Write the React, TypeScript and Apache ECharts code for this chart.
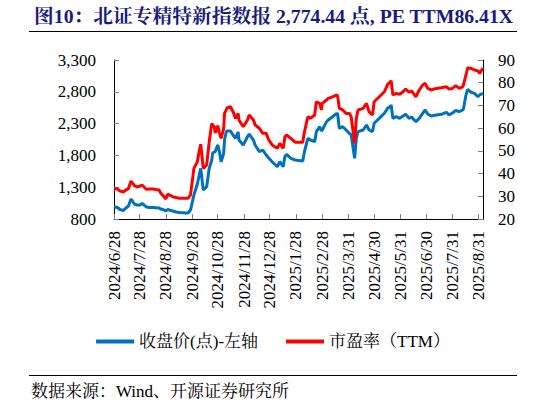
import React, { useEffect, useRef } from "react";
import * as echarts from "echarts";

const TITLE = "图10：北证专精特新指数报 2,774.44 点, PE TTM86.41X";
const SOURCE = "数据来源：Wind、开源证券研究所";
const SERIES_NAMES = ["收盘价(点)-左轴", "市盈率（TTM）"];

const tickLabels = [
  "2024/6/28", "2024/7/28", "2024/8/28", "2024/9/28", "2024/10/28", "2024/11/28", "2024/12/28",
  "2025/1/28", "2025/2/28", "2025/3/31", "2025/4/30", "2025/5/31", "2025/6/30", "2025/7/31", "2025/8/31",
];

const dates = [
  "2024-06-28", "2024-07-02", "2024-07-05", "2024-07-09", "2024-07-12", "2024-07-15", "2024-07-18", "2024-07-22",
  "2024-07-25", "2024-07-29", "2024-07-31", "2024-08-05", "2024-08-09", "2024-08-13", "2024-08-16", "2024-08-20",
  "2024-08-22", "2024-08-26", "2024-08-28", "2024-08-30", "2024-09-03", "2024-09-05", "2024-09-09", "2024-09-13",
  "2024-09-18", "2024-09-20", "2024-09-23", "2024-09-26", "2024-09-30", "2024-10-04", "2024-10-06", "2024-10-08",
  "2024-10-11", "2024-10-15", "2024-10-18", "2024-10-21", "2024-10-22", "2024-10-24", "2024-10-25", "2024-10-28",
  "2024-10-30", "2024-11-01", "2024-11-04", "2024-11-05", "2024-11-07", "2024-11-08", "2024-11-12", "2024-11-15",
  "2024-11-18", "2024-11-21", "2024-11-22", "2024-11-27", "2024-12-02", "2024-12-04", "2024-12-09", "2024-12-11",
  "2024-12-16", "2024-12-20", "2024-12-24", "2024-12-27", "2024-12-31", "2025-01-06", "2025-01-09", "2025-01-13",
  "2025-01-15", "2025-01-17", "2025-01-22", "2025-01-27", "2025-02-05", "2025-02-07", "2025-02-11", "2025-02-14",
  "2025-02-19", "2025-02-21", "2025-02-25", "2025-02-27", "2025-02-28", "2025-03-05", "2025-03-07", "2025-03-12",
  "2025-03-17", "2025-03-18", "2025-03-20", "2025-03-24", "2025-03-28", "2025-04-01", "2025-04-03", "2025-04-07",
  "2025-04-09", "2025-04-11", "2025-04-17", "2025-04-21", "2025-04-24", "2025-04-28", "2025-04-30", "2025-05-06",
  "2025-05-12", "2025-05-16", "2025-05-19", "2025-05-20", "2025-05-22", "2025-05-26", "2025-05-30", "2025-06-03",
  "2025-06-06", "2025-06-10", "2025-06-13", "2025-06-18", "2025-06-22", "2025-06-26", "2025-06-29", "2025-07-02",
  "2025-07-06", "2025-07-12", "2025-07-18", "2025-07-24", "2025-07-27", "2025-07-31", "2025-08-04", "2025-08-08",
  "2025-08-12", "2025-08-13", "2025-08-16", "2025-08-18", "2025-08-22", "2025-08-26", "2025-08-30", "2025-09-01",
  "2025-09-05",
];

const closes = [
  993, 981, 949, 934, 973, 1004, 1115, 1036,
  1020, 1020, 1047, 989, 981, 981, 978, 973,
  957, 942, 926, 949, 934, 926, 910, 902,
  899, 894, 894, 942, 1177, 1350, 1476, 1597,
  1256, 1308, 1597, 1728, 1833, 1853, 1858, 1964,
  1858, 1701, 1833, 2042, 2173, 2184, 2184, 2121,
  2069, 2168, 2042, 1964, 2094, 2136, 2042, 1964,
  1858, 1885, 1806, 1759, 1701, 1622, 1701, 1622,
  1780, 1817, 1754, 1728, 1712, 1858, 2069, 2042,
  2015, 2173, 2251, 2184, 2199, 2330, 2357, 2408,
  2462, 2451, 2226, 2251, 2199, 2147, 2121, 1754,
  2069, 2173, 2199, 2278, 2199, 2173, 2305, 2383,
  2462, 2545, 2566, 2592, 2383, 2408, 2383, 2420,
  2446, 2383, 2404, 2330, 2383, 2462, 2514, 2451,
  2420, 2435, 2446, 2478, 2435, 2467, 2506, 2487,
  2514, 2530, 2750, 2839, 2792, 2776, 2723, 2750,
  2774.44,
];

const peTTM = [
  33.5, 33.2, 32.3, 31.9, 32.8, 33.4, 36.7, 34.7,
  34.1, 34.5, 35.0, 33.1, 33.2, 33.2, 33.0, 32.8,
  31.4, 29.8, 28.8, 30.9, 30.3, 29.8, 29.5, 29.1,
  29.1, 29.1, 29.1, 30.6, 42.3, 45.2, 49.5, 52.9,
  42.3, 43.8, 54.0, 62.1, 61.4, 60.6, 57.9, 61.1,
  57.9, 55.5, 59.9, 66.5, 68.0, 69.0, 69.4, 67.2,
  64.3, 66.5, 63.6, 60.6, 63.6, 65.8, 63.6, 61.4,
  59.9, 57.7, 57.7, 54.8, 52.6, 51.1, 53.3, 51.1,
  56.2, 57.0, 55.5, 53.8, 53.8, 58.4, 65.0, 64.3,
  65.8, 71.6, 70.9, 68.0, 70.9, 72.4, 73.1, 73.8,
  74.6, 74.2, 68.7, 68.0, 66.5, 66.5, 64.9, 53.3,
  64.3, 68.0, 68.7, 70.9, 67.2, 65.8, 71.6, 73.8,
  76.0, 79.4, 80.4, 80.9, 74.6, 75.3, 74.9, 76.0,
  77.2, 75.8, 76.4, 73.8, 76.8, 79.0, 79.7, 77.5,
  76.8, 77.5, 77.8, 78.2, 77.2, 77.5, 78.7, 77.5,
  78.2, 79.0, 83.4, 86.6, 86.3, 85.6, 85.2, 84.1,
  86.41,
];

const X_START = "2024-06-28";
const X_END = "2025-09-05";

const SERIF = "'Liberation Serif', 'Times New Roman', 'Noto Serif CJK SC', 'Noto Sans CJK SC', serif";

const ts = (s: string) => Date.parse(s + "T00:00:00Z");
const tsFromLabel = (s: string) => {
  const [y, m, d] = s.split("/").map(Number);
  return Date.UTC(y, m - 1, d);
};
const fmtDate = (v: number) => {
  const d = new Date(v);
  return `${d.getUTCFullYear()}/${d.getUTCMonth() + 1}/${d.getUTCDate()}`;
};

export default function App() {
  const ref = useRef<HTMLDivElement>(null);
  useEffect(() => {
    document.body.style.margin = "0";
    if (!ref.current) return;
    const chart = echarts.init(ref.current, undefined, { renderer: "svg" });
    const tickTs = tickLabels.map(tsFromLabel);
    const axisLabelStyle = { fontSize: 17, fontFamily: SERIF, color: "#000" };
    chart.setOption({
      animation: false,
      backgroundColor: "#fff",
      title: {
        text: TITLE,
        left: 29,
        top: 1,
        textStyle: { fontFamily: SERIF, fontWeight: "bold", fontSize: 19.75, color: "#1a1a80" },
      },
      graphic: [
        { type: "line", shape: { x1: 29, y1: 31.5, x2: 517, y2: 31.5 }, style: { stroke: "#000", lineWidth: 1 } },
        { type: "line", shape: { x1: 29, y1: 375.5, x2: 517, y2: 375.5 }, style: { stroke: "#000", lineWidth: 1 } },
        {
          type: "text",
          x: 31,
          y: 391,
          style: { text: SOURCE, font: `17px ${SERIF}`, fill: "#000", verticalAlign: "middle" },
        },
      ],
      legend: {
        top: 328,
        left: "center",
        icon: "rect",
        itemWidth: 38,
        itemHeight: 4,
        itemGap: 28,
        textStyle: { fontSize: 17, fontFamily: SERIF, color: "#000" },
        data: SERIES_NAMES,
      },
      grid: { left: 114, right: 63, top: 60, bottom: 186 },
      xAxis: {
        type: "value",
        min: ts(X_START),
        max: ts(X_END),
        axisLine: { show: true, lineStyle: { color: "#000", width: 1 } },
        axisTick: { show: true, inside: true, length: 5, customValues: tickTs, lineStyle: { color: "#808080" } },
        axisLabel: { customValues: tickTs, rotate: 90, margin: 12, formatter: (v: number) => fmtDate(v), ...axisLabelStyle },
        splitLine: { show: false },
      },
      yAxis: [
        {
          type: "value",
          min: 800,
          max: 3300,
          interval: 500,
          position: "left",
          axisLine: { show: true, lineStyle: { color: "#000", width: 1 } },
          axisTick: { show: true, inside: true, length: 5, lineStyle: { color: "#808080" } },
          axisLabel: { margin: 18, formatter: (v: number) => v.toLocaleString("en-US"), ...axisLabelStyle },
          splitLine: { show: false },
        },
        {
          type: "value",
          min: 20,
          max: 90,
          interval: 10,
          position: "right",
          axisLine: { show: true, lineStyle: { color: "#000", width: 1 } },
          axisTick: { show: true, inside: true, length: 5, lineStyle: { color: "#808080" } },
          axisLabel: { margin: 15, ...axisLabelStyle },
          splitLine: { show: false },
        },
      ],
      series: [
        {
          name: SERIES_NAMES[0],
          type: "line",
          yAxisIndex: 0,
          showSymbol: false,
          color: "#0070C0",
          lineStyle: { width: 3, color: "#0070C0" },
          data: dates.map((d, i) => [ts(d), closes[i]]),
        },
        {
          name: SERIES_NAMES[1],
          type: "line",
          yAxisIndex: 1,
          showSymbol: false,
          color: "#FF0000",
          lineStyle: { width: 3, color: "#FF0000" },
          data: dates.map((d, i) => [ts(d), peTTM[i]]),
        },
      ],
    });
    return () => chart.dispose();
  }, []);
  return <div ref={ref} style={{ width: 546, height: 405 }} />;
}
